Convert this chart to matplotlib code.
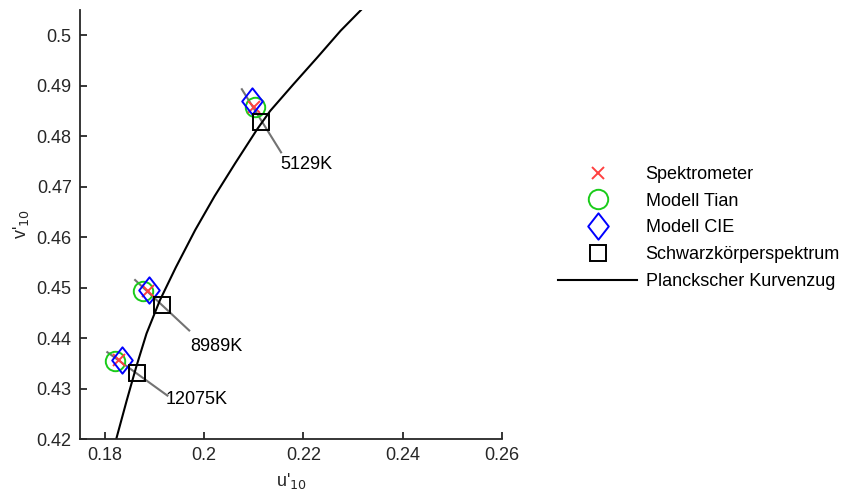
import numpy as np
import matplotlib.pyplot as plt
from matplotlib.path import Path
from matplotlib.lines import Line2D
from matplotlib.ticker import FormatStrFormatter

plt.rcParams['font.family'] = ['Liberation Sans', 'DejaVu Sans']

# measured chromaticity (u'10, v'10) for the three lamps
spektrometer_u = [0.2101, 0.1886, 0.1829]
spektrometer_v = [0.4857, 0.4493, 0.4357]
tian_u = [0.2103, 0.1877, 0.1820]
tian_v = [0.4857, 0.4493, 0.4355]
cie_u = [0.2096, 0.1888, 0.1834]
cie_v = [0.4870, 0.4495, 0.4357]
planck_u = [0.2115, 0.1916, 0.1864]
planck_v = [0.4829, 0.4465, 0.4330]
cct_labels = ['5129K', '8989K', '12075K']

# leader lines for the labels (start, end) and label anchor
leader_u = [(0.2076, 0.2155), (0.1861, 0.1970), (0.1805, 0.1926)]
leader_v = [(0.4893, 0.4768), (0.4515, 0.4415), (0.4372, 0.4286)]
label_u = [0.2154, 0.1972, 0.1923]
label_v = [0.4760, 0.4401, 0.4296]

# Planckian locus
locus_u = [0.1823, 0.1844, 0.1863, 0.1884, 0.1911, 0.1943, 0.1982, 0.2021,
           0.2063, 0.2107, 0.2133, 0.2180, 0.2228, 0.2275, 0.2317]
locus_v = [0.4200, 0.4276, 0.4342, 0.4409, 0.4475, 0.4540, 0.4614, 0.4681,
           0.4747, 0.4814, 0.4850, 0.4903, 0.4956, 0.5009, 0.5051]

axc = (0.15, 0.15, 0.15)
fs = 13

fig = plt.figure(figsize=(8.48, 4.99), dpi=100)
ax = fig.add_axes([80/848, 1-439/499, 422/848, 429/499])

diamond = Path([(0, 1), (0.78, 0), (0, -1), (-0.78, 0), (0, 1)],
               [Path.MOVETO, Path.LINETO, Path.LINETO, Path.LINETO, Path.CLOSEPOLY])

for i in range(3):
    ax.plot(leader_u[i], leader_v[i], color=(0.45, 0.45, 0.45), lw=1.5, zorder=1)
    ax.text(label_u[i], label_v[i], cct_labels[i], fontsize=fs, ha='left', va='top',
            color='k')

ax.plot(locus_u, locus_v, 'k-', lw=1.5, zorder=2)
ax.plot(tian_u, tian_v, 'o', ms=14, mfc='none', mec=(0.1, 0.8, 0.1), mew=1.4, ls='none', zorder=3)
ax.plot(spektrometer_u, spektrometer_v, 'x', ms=8.5, color=(1, 0.25, 0.25), mew=1.4, ls='none', zorder=4)
ax.plot(cie_u, cie_v, marker=diamond, ms=19, mfc='none', mec=(0, 0, 1), mew=1.4, ls='none', zorder=5)
ax.plot(planck_u, planck_v, 's', ms=12, mfc='none', mec='k', mew=1.4, ls='none', zorder=6)

ax.set_xlim(0.175, 0.26)
ax.set_ylim(0.42, 0.505)
ax.set_xticks([0.18, 0.2, 0.22, 0.24, 0.26])
ax.set_yticks(np.round(np.arange(0.42, 0.5001, 0.01), 2))
ax.xaxis.set_major_formatter(FormatStrFormatter('%g'))
ax.yaxis.set_major_formatter(FormatStrFormatter('%g'))
for s in ['top', 'right']:
    ax.spines[s].set_visible(False)
for s in ['left', 'bottom']:
    ax.spines[s].set_color(axc)
    ax.spines[s].set_linewidth(1.3)
ax.tick_params(direction='in', length=5, width=1.3, colors=axc, labelsize=fs, pad=6)
ax.set_xlabel("u'$_{10}$", fontsize=fs, color=axc, labelpad=5)
ax.set_ylabel("v'$_{10}$", fontsize=fs, color=axc, labelpad=4)

handles = [
    Line2D([], [], ls='none', marker='x', ms=8.5, color=(1, 0.25, 0.25), mew=1.4),
    Line2D([], [], ls='none', marker='o', ms=14, mfc='none', mec=(0.1, 0.8, 0.1), mew=1.4),
    Line2D([], [], ls='none', marker=diamond, ms=19, mfc='none', mec=(0, 0, 1), mew=1.4),
    Line2D([], [], ls='none', marker='s', ms=12, mfc='none', mec='k', mew=1.4),
    Line2D([], [], color='k', lw=1.5),
]
labels = ['Spektrometer', 'Modell Tian', 'Modell CIE', 'Schwarzkörperspektrum',
          'Planckscher Kurvenzug']
fig.legend(handles, labels, loc='center left', bbox_to_anchor=(558/848, 1-228/499),
           frameon=False, fontsize=fs, handlelength=4.4, handletextpad=0.45,
           labelspacing=0.54, borderpad=0, borderaxespad=0)

fig.savefig('out.png', dpi=100)
